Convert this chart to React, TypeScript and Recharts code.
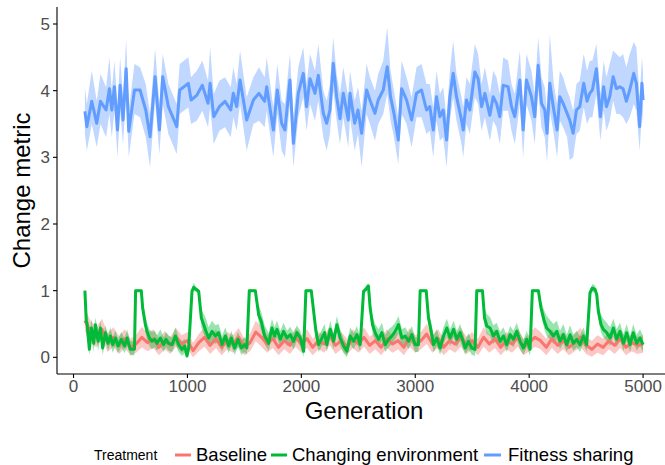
import React from 'react';
import { ComposedChart, Line, Area, XAxis, YAxis } from 'recharts';

const FONT = '"Liberation Sans", Arial, Helvetica, sans-serif';
const RED = '#F8766D';
const GREEN = '#00BA38';
const BLUE = '#619CFF';

const xTicks = [0, 1000, 2000, 3000, 4000, 5000];
const yTicks = [0, 1, 2, 3, 4, 5];
const legendTitle = 'Treatment';
const treatments = ['Baseline', 'Changing environment', 'Fitness sharing'];

// Fitness sharing
const blueGen = [
  100,117,160,204,237,286,315,336,359,386,
  409,435,462,485,535,584,634,672,716,754,
  783,833,906,932,1008,1032,1082,1131,1181,1199,
  1231,1280,1330,1380,1403,1432,1462,1520,1579,1628,
  1678,1696,1754,1789,1827,1856,1900,1930,1973,2017,
  2046,2076,2120,2149,2193,2222,2251,2280,2310,2339,
  2368,2412,2427,2468,2497,2529,2573,2602,2646,2675,
  2719,2754,2783,2813,2851,2880,2924,2968,3011,3055,
  3099,3128,3158,3187,3216,3245,3275,3304,3333,3362,
  3406,3421,3450,3479,3523,3552,3582,3611,3655,3684,
  3713,3742,3772,3815,3845,3874,3918,3947,3976,4020,
  4049,4079,4108,4137,4157,4181,4216,4245,4269,4298,
  4333,4356,4386,4415,4444,4479,4508,4532,4555,4590,
  4625,4654,4678,4707,4737,4766,4795,4824,4853,4883,
  4918,4941,4970,4990,5000,
];
const blueMean = [
  3.69,3.46,3.84,3.51,3.84,3.71,4.03,3.71,4.06,3.41,
  4.08,3.56,4.33,3.39,4.01,4.01,3.71,3.31,4.21,3.41,
  4.21,3.76,3.46,4.01,4.11,3.86,3.93,4.08,3.81,4.11,
  3.61,3.76,3.84,3.71,3.96,3.76,4.16,3.56,3.86,3.96,
  3.84,4.06,3.41,4.01,3.51,3.41,4.16,3.21,3.96,4.26,
  3.76,4.18,3.96,4.23,3.66,3.51,3.71,4.41,3.91,3.58,
  3.96,3.56,3.96,3.51,3.71,3.36,4.01,3.86,3.66,3.86,
  4.01,4.36,3.91,3.66,3.26,4.03,3.86,3.56,3.96,4.01,
  3.71,3.76,3.41,3.91,3.61,3.71,3.26,3.91,4.26,3.91,
  3.56,3.41,3.86,3.71,4.28,4.18,3.76,3.96,3.63,3.91,
  3.81,3.61,4.08,4.06,3.76,3.61,4.16,3.41,4.16,3.91,
  3.61,4.38,3.81,3.71,3.36,4.11,3.71,3.41,3.91,3.81,
  3.66,3.56,3.36,3.71,3.76,4.11,3.84,3.96,4.01,4.33,
  3.61,4.06,3.76,3.91,4.21,4.03,4.06,4.03,3.84,4.01,
  4.26,4.11,3.46,4.11,3.86,
];
const blueLo = [
  3.35,3.1,3.5,3.15,3.5,3.3,3.65,3.3,3.7,3.0,
  3.7,3.2,3.95,3.0,3.65,3.6,3.3,2.85,3.85,3.05,
  3.8,3.35,3.05,3.65,3.75,3.5,3.55,3.7,3.45,3.75,
  3.2,3.4,3.45,3.3,3.6,3.4,3.8,3.1,3.5,3.55,
  3.45,3.7,3.0,3.65,3.1,3.0,3.8,2.85,3.6,3.9,
  3.4,3.8,3.55,3.85,3.3,3.1,3.35,4.0,3.55,3.2,
  3.6,3.15,3.6,3.1,3.35,2.85,3.65,3.5,3.25,3.5,
  3.65,3.95,3.55,3.3,2.9,3.65,3.5,3.15,3.6,3.6,
  3.35,3.4,3.0,3.55,3.25,3.3,2.85,3.55,3.9,3.55,
  3.2,3.0,3.5,3.35,3.9,3.8,3.4,3.6,3.25,3.55,
  3.45,3.2,3.7,3.7,3.4,3.2,3.8,3.0,3.8,3.55,
  3.2,4.0,3.45,3.3,2.93,3.7,3.35,3.0,3.55,3.45,
  3.3,2.96,3.0,3.35,3.4,3.75,3.5,3.6,3.6,3.95,
  3.25,3.7,3.4,3.55,3.85,3.65,3.65,3.6,3.5,3.6,
  3.8,3.7,3.1,3.7,3.5,
];
const blueHi = [
  4.05,3.8,4.3,3.85,4.25,4.05,4.5,4.0,4.45,3.75,
  4.5,3.9,4.78,3.7,4.4,4.35,4.1,3.65,4.63,3.8,
  4.55,4.1,3.8,4.4,4.5,4.2,4.3,4.45,4.15,4.65,
  3.95,4.15,4.2,4.05,4.35,4.1,4.6,3.9,4.2,4.35,
  4.2,4.5,3.75,4.4,3.85,3.8,4.55,3.6,4.35,4.65,
  4.1,4.55,4.3,4.7,4.0,3.85,4.1,4.8,4.25,3.95,
  4.35,3.9,4.3,3.85,4.05,3.7,4.4,4.2,4.0,4.25,
  4.45,4.95,4.3,4.0,3.6,4.45,4.2,3.9,4.35,4.4,
  4.1,4.1,3.75,4.3,3.95,4.05,3.6,4.3,4.75,4.25,
  3.9,3.75,4.2,4.1,4.7,4.55,4.1,4.35,3.95,4.3,
  4.2,3.95,4.5,4.45,4.1,3.95,4.6,3.75,4.55,4.3,
  3.95,4.8,4.2,4.05,3.7,4.85,4.1,3.8,4.3,4.2,
  4.0,3.9,3.7,4.1,4.15,4.55,4.3,4.45,4.45,4.7,
  3.95,4.45,4.2,4.4,4.6,4.55,4.5,4.55,4.35,4.55,
  4.73,4.65,3.9,4.5,4.25,
];

// Changing environment
const greenGen = [
  100,112,118,139,157,178,192,216,236,256,
  280,303,324,344,368,391,420,449,470,499,
  535,545,595,607,631,645,666,689,713,733,
  762,791,812,835,865,894,923,952,976,996,
  1011,1040,1055,1075,1099,1122,1143,1163,1186,1216,
  1245,1274,1303,1333,1362,1385,1414,1444,1473,1502,
  1522,1543,1596,1625,1648,1678,1713,1742,1765,1786,
  1815,1844,1874,1903,1932,1961,1991,2020,2040,2087,
  2108,2128,2151,2175,2204,2224,2254,2283,2312,2341,
  2371,2400,2429,2458,2488,2517,2546,2566,2589,2604,
  2625,2648,2678,2707,2736,2766,2795,2824,2853,2883,
  2912,2941,2970,2999,3028,3043,3096,3116,3140,3160,
  3189,3218,3248,3277,3306,3336,3365,3394,3420,3438,
  3467,3496,3525,3540,3590,3608,3628,3657,3686,3715,
  3745,3774,3803,3833,3862,3891,3920,3950,3979,4008,
  4028,4081,4104,4133,4154,4183,4213,4242,4271,4300,
  4330,4359,4388,4417,4446,4476,4505,4534,4555,4578,
  4593,4607,4631,4651,4681,4710,4739,4768,4797,4827,
  4856,4885,4914,4943,4973,5000,
];
const greenMean = [
  1.0,0.54,0.52,0.12,0.44,0.21,0.49,0.24,0.44,0.14,
  0.37,0.21,0.32,0.19,0.29,0.17,0.27,0.17,0.29,0.12,
  0.12,1.0,1.0,0.74,0.49,0.39,0.29,0.24,0.27,0.21,
  0.29,0.19,0.27,0.21,0.19,0.32,0.19,0.12,0.17,0.02,
  0.14,0.99,1.05,1.02,0.99,0.59,0.49,0.39,0.29,0.39,
  0.32,0.37,0.19,0.32,0.17,0.29,0.14,0.27,0.14,0.19,
  0.14,1.0,1.0,0.64,0.54,0.32,0.21,0.44,0.32,0.42,
  0.27,0.39,0.29,0.34,0.24,0.37,0.29,0.09,1.0,1.0,
  0.69,0.39,0.19,0.27,0.37,0.19,0.42,0.24,0.49,0.29,
  0.17,0.09,0.32,0.24,0.34,0.19,0.99,1.02,1.07,0.74,
  0.49,0.37,0.27,0.37,0.19,0.27,0.32,0.39,0.49,0.29,
  0.32,0.24,0.34,0.19,0.19,1.0,1.0,0.59,0.39,0.19,
  0.29,0.14,0.32,0.44,0.29,0.42,0.27,0.37,0.24,0.14,
  0.24,0.14,0.12,1.0,1.0,0.59,0.47,0.44,0.32,0.39,
  0.24,0.32,0.19,0.34,0.27,0.39,0.24,0.14,0.27,0.12,
  1.0,1.0,0.74,0.54,0.44,0.39,0.32,0.39,0.24,0.34,
  0.19,0.34,0.21,0.27,0.19,0.32,0.19,0.97,1.04,1.02,
  0.94,0.69,0.49,0.42,0.37,0.29,0.44,0.27,0.39,0.21,
  0.37,0.19,0.37,0.21,0.29,0.19,
];
const greenLo = [
  0.97,0.35,0.3,0.03,0.3,0.08,0.35,0.1,0.3,0.03,
  0.25,0.1,0.2,0.07,0.17,0.06,0.15,0.06,0.17,0.03,
  0.03,0.98,0.98,0.65,0.38,0.27,0.17,0.12,0.15,0.1,
  0.17,0.08,0.15,0.1,0.08,0.2,0.08,0.02,0.06,0.0,
  0.04,0.96,1.0,0.98,0.96,0.45,0.35,0.25,0.16,0.25,
  0.2,0.24,0.08,0.2,0.06,0.17,0.04,0.15,0.04,0.08,
  0.04,0.98,0.98,0.52,0.4,0.2,0.1,0.3,0.2,0.3,
  0.15,0.27,0.17,0.22,0.12,0.25,0.17,0.0,0.98,0.98,
  0.58,0.27,0.08,0.15,0.25,0.08,0.3,0.12,0.36,0.17,
  0.06,0.0,0.2,0.12,0.22,0.08,0.96,0.98,1.02,0.64,
  0.36,0.25,0.15,0.25,0.08,0.15,0.2,0.27,0.36,0.17,
  0.2,0.12,0.22,0.08,0.08,0.98,0.98,0.47,0.27,0.08,
  0.17,0.04,0.2,0.32,0.17,0.3,0.15,0.25,0.12,0.04,
  0.12,0.04,0.02,0.98,0.98,0.47,0.35,0.32,0.2,0.27,
  0.12,0.2,0.08,0.22,0.15,0.27,0.12,0.04,0.15,0.02,
  0.98,0.98,0.64,0.42,0.32,0.27,0.2,0.27,0.12,0.22,
  0.08,0.22,0.1,0.15,0.08,0.2,0.08,0.92,0.98,0.97,
  0.88,0.58,0.37,0.3,0.25,0.17,0.32,0.15,0.27,0.1,
  0.25,0.08,0.25,0.1,0.17,0.08,
];
const greenHi = [
  1.03,0.75,0.7,0.3,0.58,0.35,0.6,0.38,0.55,0.27,
  0.48,0.33,0.45,0.3,0.4,0.28,0.38,0.28,0.42,0.24,
  0.24,1.02,1.02,0.85,0.62,0.52,0.42,0.38,0.4,0.33,
  0.42,0.3,0.38,0.32,0.3,0.45,0.3,0.24,0.28,0.12,
  0.25,1.03,1.12,1.06,1.02,0.72,0.65,0.58,0.45,0.55,
  0.48,0.5,0.32,0.45,0.28,0.4,0.26,0.38,0.26,0.3,
  0.25,1.02,1.02,0.78,0.68,0.48,0.36,0.58,0.45,0.55,
  0.4,0.52,0.4,0.46,0.36,0.48,0.4,0.2,1.02,1.02,
  0.8,0.52,0.32,0.4,0.5,0.32,0.55,0.36,0.62,0.42,
  0.28,0.2,0.45,0.36,0.47,0.3,1.02,1.07,1.12,0.85,
  0.62,0.5,0.42,0.52,0.33,0.42,0.46,0.52,0.62,0.42,
  0.45,0.36,0.47,0.3,0.3,1.02,1.02,0.72,0.53,0.33,
  0.42,0.26,0.45,0.58,0.42,0.55,0.4,0.5,0.36,0.26,
  0.36,0.26,0.24,1.02,1.02,0.75,0.65,0.6,0.48,0.52,
  0.38,0.45,0.32,0.47,0.4,0.52,0.36,0.26,0.4,0.24,
  1.02,1.02,0.85,0.7,0.62,0.56,0.5,0.55,0.4,0.5,
  0.34,0.48,0.34,0.4,0.32,0.45,0.3,1.02,1.1,1.08,
  1.0,0.8,0.64,0.58,0.52,0.45,0.58,0.42,0.52,0.35,
  0.5,0.32,0.5,0.34,0.42,0.32,
];

// Baseline
const redGen = [
  100,150,200,250,300,350,400,450,500,550,
  600,650,700,750,800,850,900,950,1000,1050,
  1100,1150,1200,1250,1300,1350,1400,1450,1500,1550,
  1600,1650,1700,1750,1800,1850,1900,1950,2000,2050,
  2100,2150,2200,2250,2300,2350,2400,2450,2500,2550,
  2600,2650,2700,2750,2800,2850,2900,2950,3000,3050,
  3100,3150,3200,3250,3300,3350,3400,3450,3500,3550,
  3600,3650,3700,3750,3800,3850,3900,3950,4000,4050,
  4100,4150,4200,4250,4300,4350,4400,4450,4500,4550,
  4600,4650,4700,4750,4800,4850,4900,4950,5000,
];
const redMean = [
  0.55,0.38,0.3,0.42,0.22,0.3,0.18,0.28,0.15,0.2,
  0.3,0.22,0.28,0.15,0.25,0.18,0.3,0.2,0.25,0.1,
  0.22,0.3,0.18,0.28,0.15,0.25,0.2,0.3,0.15,0.22,
  0.38,0.3,0.2,0.28,0.15,0.25,0.18,0.3,0.2,0.28,
  0.15,0.25,0.2,0.32,0.18,0.25,0.15,0.28,0.2,0.3,
  0.18,0.25,0.15,0.28,0.2,0.25,0.15,0.3,0.2,0.25,
  0.35,0.2,0.28,0.15,0.25,0.2,0.3,0.18,0.25,0.15,
  0.3,0.2,0.28,0.15,0.25,0.2,0.3,0.15,0.22,0.3,
  0.25,0.15,0.28,0.18,0.25,0.15,0.22,0.3,0.18,0.12,
  0.2,0.15,0.25,0.18,0.28,0.15,0.22,0.18,0.2,
];
const redLo = [
  0.4,0.22,0.15,0.28,0.08,0.16,0.05,0.14,0.03,0.07,
  0.15,0.09,0.14,0.03,0.12,0.05,0.16,0.07,0.12,0.0,
  0.09,0.16,0.05,0.14,0.03,0.12,0.07,0.16,0.03,0.09,
  0.24,0.16,0.07,0.14,0.03,0.12,0.05,0.16,0.07,0.14,
  0.03,0.12,0.07,0.18,0.05,0.12,0.03,0.14,0.07,0.16,
  0.05,0.12,0.03,0.14,0.07,0.12,0.03,0.16,0.07,0.12,
  0.2,0.07,0.14,0.03,0.12,0.07,0.16,0.05,0.12,0.03,
  0.16,0.07,0.14,0.03,0.12,0.07,0.16,0.03,0.09,0.16,
  0.12,0.03,0.14,0.05,0.12,0.03,0.09,0.16,0.05,0.01,
  0.07,0.03,0.12,0.05,0.14,0.03,0.09,0.05,0.07,
];
const redHi = [
  0.72,0.55,0.45,0.58,0.36,0.45,0.32,0.42,0.28,0.34,
  0.46,0.36,0.42,0.28,0.39,0.31,0.44,0.33,0.38,0.22,
  0.35,0.45,0.31,0.42,0.28,0.38,0.33,0.44,0.28,0.36,
  0.55,0.45,0.33,0.42,0.28,0.38,0.31,0.44,0.33,0.42,
  0.28,0.38,0.33,0.46,0.31,0.38,0.28,0.42,0.33,0.45,
  0.31,0.38,0.28,0.42,0.33,0.38,0.28,0.44,0.33,0.38,
  0.5,0.33,0.42,0.28,0.38,0.33,0.44,0.31,0.38,0.28,
  0.45,0.33,0.42,0.28,0.38,0.33,0.44,0.28,0.35,0.45,
  0.38,0.28,0.42,0.31,0.38,0.28,0.35,0.44,0.31,0.25,
  0.33,0.28,0.38,0.31,0.42,0.28,0.35,0.31,0.33,
];

const buildRows = (gen: number[], mean: number[], lo: number[], hi: number[]) =>
  gen.map((g, i) => ({ g, mean: mean[i], band: [lo[i], hi[i]] }));

const redRows = buildRows(redGen, redMean, redLo, redHi);
const greenRows = buildRows(greenGen, greenMean, greenLo, greenHi);
const blueRows = buildRows(blueGen, blueMean, blueLo, blueHi);

const series = [
  { name: treatments[0], color: RED, rows: redRows },
  { name: treatments[1], color: GREEN, rows: greenRows },
  { name: treatments[2], color: BLUE, rows: blueRows },
];

const legendPos = [
  { key: [175, 191], text: 196 },
  { key: [271, 287], text: 292 },
  { key: [484, 501], text: 508 },
];

export default function App() {
  return (
    <div
      style={{
        position: 'absolute',
        left: 0,
        top: 0,
        width: 665,
        height: 465,
        overflow: 'hidden',
        background: '#fff',
        fontFamily: FONT,
      }}
    >
      <ComposedChart width={671} height={465} margin={{ top: 7, right: 0, bottom: 0, left: 0 }}>
        <XAxis
          type="number"
          dataKey="g"
          domain={[-145, 5245]}
          ticks={xTicks}
          interval={0}
          allowDataOverflow
          height={91}
          tickSize={4}
          tickMargin={2}
          tick={{ fontSize: 17, fill: '#4D4D4D', fontFamily: FONT }}
          axisLine={{ stroke: '#000', strokeWidth: 1.1 }}
          tickLine={{ stroke: '#000', strokeWidth: 1.1 }}
        />
        <YAxis
          type="number"
          domain={[-0.25, 5.255]}
          ticks={yTicks}
          interval={0}
          allowDataOverflow
          width={57}
          tickSize={4}
          tickMargin={3}
          tick={{ fontSize: 17, fill: '#4D4D4D', fontFamily: FONT }}
          axisLine={{ stroke: '#000', strokeWidth: 1.1 }}
          tickLine={{ stroke: '#000', strokeWidth: 1.1 }}
        />
        {series.map((s) => (
          <Area
            key={'band-' + s.name}
            data={s.rows}
            dataKey="band"
            type="linear"
            stroke="none"
            fill={s.color}
            fillOpacity={0.4}
            dot={false}
            activeDot={false}
            isAnimationActive={false}
          />
        ))}
        {series.map((s) => (
          <Line
            key={'line-' + s.name}
            data={s.rows}
            dataKey="mean"
            type="linear"
            stroke={s.color}
            strokeWidth={3}
            strokeLinejoin="round"
            dot={false}
            activeDot={false}
            isAnimationActive={false}
          />
        ))}
      </ComposedChart>
      <svg
        width={665}
        height={465}
        style={{ position: 'absolute', left: 0, top: 0, pointerEvents: 'none' }}
      >
        <text
          x={30}
          y={190.5}
          transform="rotate(-90 30 190.5)"
          textAnchor="middle"
          fontSize={24}
          fontFamily={FONT}
          fill="#000"
        >
          Change metric
        </text>
        <text x={364} y={419} textAnchor="middle" fontSize={24} fontFamily={FONT} fill="#000">
          Generation
        </text>
        <text x={94} y={460} fontSize={14} fontFamily={FONT} fill="#000">
          {legendTitle}
        </text>
        {series.map((s, i) => (
          <g key={'leg-' + s.name}>
            <line
              x1={legendPos[i].key[0]}
              x2={legendPos[i].key[1]}
              y1={455}
              y2={455}
              stroke={s.color}
              strokeWidth={3}
            />
            <text x={legendPos[i].text} y={461} fontSize={18.5} fontFamily={FONT} fill="#000">
              {s.name}
            </text>
          </g>
        ))}
      </svg>
    </div>
  );
}
